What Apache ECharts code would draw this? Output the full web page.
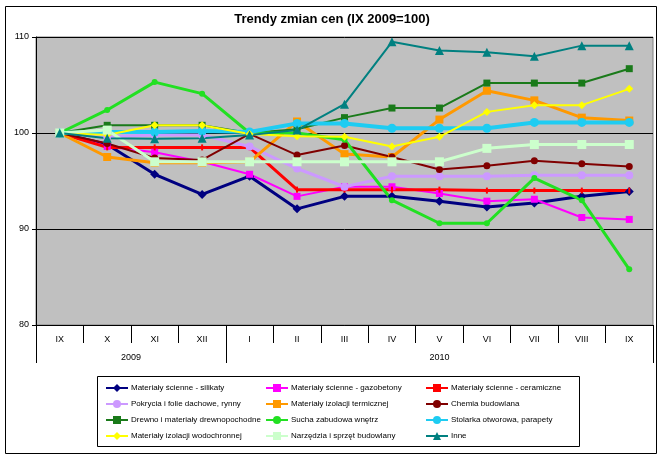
<!DOCTYPE html>
<html>
<head>
<meta charset="utf-8">
<script src="https://cdn.jsdelivr.net/npm/echarts@6/dist/echarts.min.js"></script>
<style>html,body{margin:0;padding:0;background:#fff;}#c{width:664px;height:460px;}</style>
</head>
<body>
<div id="c"></div>
<script>
const categories = ['IX','X','XI','XII','I','II','III','IV','V','VI','VII','VIII','IX'];
const years = ['2009','2010'];
const yearSpans = [4, 9];
const yTicks = [80, 90, 100, 110];

const silikaty     = [100, 98.8, 95.7, 93.6, 95.5, 92.1, 93.4, 93.4, 92.9, 92.3, 92.7, 93.4, 93.9];
const gazobetony   = [100, 98.6, 98.0, 97.0, 95.7, 93.4, 94.4, 94.4, 93.7, 92.9, 93.1, 91.2, 91.0];
const ceramiczne   = [100, 98.5, 98.5, 98.5, 98.5, 94.1, 94.1, 94.1, 94.1, 94.0, 94.0, 94.0, 94.0];
const pokrycia     = [100, 99.6, 99.8, 99.8, 98.6, 96.3, 94.4, 95.5, 95.5, 95.5, 95.6, 95.6, 95.6];
const termiczna    = [100, 97.5, 96.9, 96.9, 97.0, 101.2, 97.8, 97.5, 101.4, 104.4, 103.4, 101.6, 101.3];
const chemia       = [100, 98.9, 97.4, 97.2, 99.9, 97.7, 98.7, 97.5, 96.2, 96.6, 97.1, 96.8, 96.5];
const drewno       = [100, 100.8, 100.8, 100.8, 100.0, 100.4, 101.6, 102.6, 102.6, 105.2, 105.2, 105.2, 106.7];
const sucha        = [100, 102.4, 105.3, 104.1, 100.0, 100.0, 99.3, 93.0, 90.6, 90.6, 95.3, 93.0, 85.8];
const stolarka     = [100, 100.1, 100.1, 100.2, 100.1, 101.0, 101.0, 100.5, 100.5, 100.5, 101.1, 101.1, 101.1];
const wodochronna  = [100, 99.8, 100.8, 100.8, 99.9, 99.65, 99.6, 98.6, 99.6, 102.2, 102.9, 102.9, 104.6];
const narzedzia    = [100, 100.3, 97.0, 97.0, 97.0, 97.0, 97.0, 97.0, 97.0, 98.4, 98.8, 98.8, 98.8];
const inne         = [100, 99.45, 99.4, 99.45, 99.8, 100.3, 103.0, 109.5, 108.6, 108.4, 108.0, 109.1, 109.1];

const names = [
  'Materiały ścienne - silikaty',
  'Materiały ścienne - gazobetony',
  'Materiały ścienne - ceramiczne',
  'Pokrycia i folie dachowe, rynny',
  'Materiały izolacji termicznej',
  'Chemia budowlana',
  'Drewno i materiały drewnopochodne',
  'Sucha zabudowa wnętrz',
  'Stolarka otworowa, parapety',
  'Materiały izolacji wodochronnej',
  'Narzędzia i sprzęt budowlany',
  'Inne'
];
const values = [silikaty, gazobetony, ceramiczne, pokrycia, termiczna, chemia, drewno, sucha, stolarka, wodochronna, narzedzia, inne];
const styles = [
  {c:'#000080', s:'diamond', z:9, w:3},
  {c:'#FF00FF', s:'rect', z:7, w:2},
  {c:'#FF0000', s:'rect', z:[2,6], w:3},
  {c:'#CC99FF', s:'circle', z:8, w:3},
  {c:'#FF9900', s:'rect', z:8, w:3},
  {c:'#800000', s:'circle', z:7, w:2},
  {c:'#1A7A1A', s:'rect', z:7, w:2},
  {c:'#22E022', s:'circle', z:6, w:3},
  {c:'#1ECCF2', s:'circle', z:9, w:4},
  {c:'#FFFF00', s:'diamond', z:8, w:2},
  {c:'#CCFFCC', s:'rect', z:9, w:3},
  {c:'#008080', s:'triangle', z:9, w:2}
];

const series = names.map((n, i) => ({
  name: n,
  type: 'line',
  data: values[i],
  xAxisIndex: 0,
  yAxisIndex: 0,
  symbol: styles[i].s,
  symbolSize: styles[i].z,
  showSymbol: true,
  animation: false,
  lineStyle: {color: styles[i].c, width: styles[i].w},
  itemStyle: {color: styles[i].c, borderWidth: 0}
}));

// year boundaries & centers derived from spans
const yearBounds = [0];
yearSpans.forEach(s => yearBounds.push(yearBounds[yearBounds.length - 1] + s));
const yearCenters = yearSpans.map((s, i) => yearBounds[i] + s / 2);

const font = 'Liberation Sans, Arial, sans-serif';
function legendCol(idx, left) {
  return {
    orient: 'vertical', left: left, top: 379, itemGap: 8,
    itemWidth: 22, itemHeight: 10,
    data: idx.map(i => names[i]),
    textStyle: {fontFamily: font, fontSize: 8, color: '#000', padding: [0,0,0,-2]},
    selectedMode: false
  };
}

const chart = echarts.init(document.getElementById('c'), null, {renderer: 'canvas'});
chart.setOption({
  backgroundColor: '#fff',
  animation: false,
  title: {
    text: 'Trendy zmian cen (IX 2009=100)',
    left: 'center', top: 8,
    textStyle: {fontFamily: font, fontSize: 13, fontWeight: 'bold', color: '#000'}
  },
  grid: {
    left: 36, right: 11, top: 37, bottom: 135,
    show: true, backgroundColor: '#C0C0C0', borderColor: '#808080', borderWidth: 1
  },
  xAxis: [
    {
      type: 'category', data: categories, boundaryGap: true, position: 'bottom',
      axisLine: {show: true, lineStyle: {color: '#000', width: 1}},
      axisTick: {show: true, interval: 0, length: 18, inside: false, lineStyle: {color: '#000'}},
      axisLabel: {interval: 0, margin: 10, fontFamily: font, fontSize: 9, color: '#000'},
      splitLine: {show: false}
    },
    {
      type: 'value', min: 0, max: 13, position: 'bottom', offset: 0,
      axisLine: {show: false},
      axisTick: {show: true, customValues: yearBounds, length: 38, lineStyle: {color: '#000'}},
      axisLabel: {
        show: true, customValues: yearCenters, margin: 28,
        fontFamily: font, fontSize: 9, color: '#000',
        formatter: v => { const k = yearCenters.indexOf(v); return k >= 0 ? years[k] : ''; }
      },
      splitLine: {show: false}
    }
  ],
  yAxis: {
    type: 'value', min: yTicks[0], max: yTicks[yTicks.length - 1], interval: 10,
    axisLine: {show: true, lineStyle: {color: '#000'}},
    axisTick: {show: true, length: 4, lineStyle: {color: '#000'}},
    axisLabel: {fontFamily: font, fontSize: 9, color: '#000', margin: 7},
    splitLine: {show: true, lineStyle: {color: '#000', width: 1}}
  },
  legend: [
    legendCol([0, 3, 6, 9], 100),
    legendCol([1, 4, 7, 10], 260),
    legendCol([2, 5, 8, 11], 420)
  ],
  graphic: [
    {type: 'rect', shape: {x: 5.5, y: 6.5, width: 651, height: 447}, style: {fill: null, stroke: '#000', lineWidth: 1}, silent: true, z: -1},
    {type: 'rect', shape: {x: 97.5, y: 376.5, width: 482, height: 70}, style: {fill: null, stroke: '#000', lineWidth: 1}, silent: true, z: -1}
  ],
  series: series
});
</script>
</body>
</html>
